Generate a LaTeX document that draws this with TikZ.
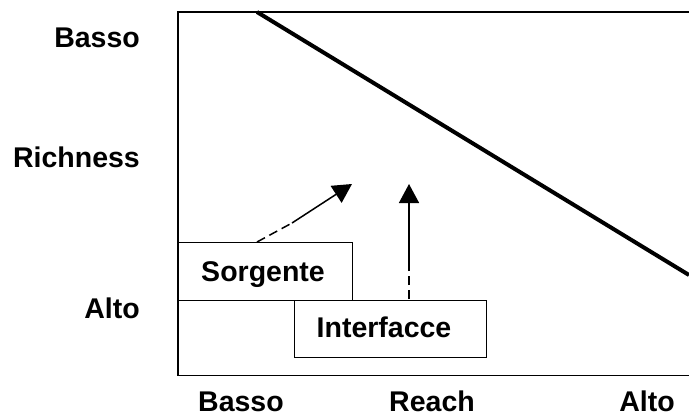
\documentclass[tikz,border=0pt]{standalone}
\usepackage{fontspec}
\setmainfont{Liberation Sans}
\usetikzlibrary{arrows.meta}
\begin{document}
\begin{tikzpicture}[x=1pt,y=-1pt,
  lbl/.style={font=\fontsize{28.5}{32}\selectfont\bfseries, inner sep=0pt},
  boxnode/.style={draw, line width=1.4pt, inner sep=0pt, anchor=north west},
  dsh/.style={line width=1.5pt, dash pattern=on 9pt off 5pt},
  tip/.style={-{Triangle[length=19pt,width=20pt]}, line width=1.5pt}]
\useasboundingbox (0,0) rectangle (689,416);
% frame, open on the right
\draw[line width=1.4pt] (689,12) -- (178,12) -- (178,375.5) -- (689,375.5);
% trade-off line
\draw[line width=4pt] (257,12) -- (689,275);
% boxes
\node[boxnode, minimum width=174pt, minimum height=58pt] (src) at (178,242) {};
\node[boxnode, minimum width=192pt, minimum height=57pt] (itf) at (294,300) {};
\node[lbl, anchor=base] (srct) at (263,281.5) {Sorgente};
\node[lbl, anchor=base] (itft) at (384,337) {Interfacce};
% arrows
\coordinate (a1) at (257,242);
\coordinate (b1) at (292,223);
\coordinate (c1) at (352,184);
\draw[dsh] (a1) -- (b1);
\draw[tip] (b1) -- (c1);
\coordinate (a2) at (409,299);
\coordinate (b2) at (409,266);
\coordinate (c2) at (409,184);
\draw[dsh] (a2) -- (b2);
\draw[tip] (b2) -- (c2);
% axis labels
\node[lbl, anchor=base east] (yb) at (140,47.5) {Basso};
\node[lbl, anchor=base east] (yr) at (140,167) {Richness};
\node[lbl, anchor=base east] (ya) at (140,318) {Alto};
\node[lbl, anchor=base] (xb) at (241,411.5) {Basso};
\node[lbl, anchor=base] (xr) at (432,411.5) {Reach};
\node[lbl, anchor=base] (xa) at (647,411.5) {Alto};
\end{tikzpicture}
\end{document}
